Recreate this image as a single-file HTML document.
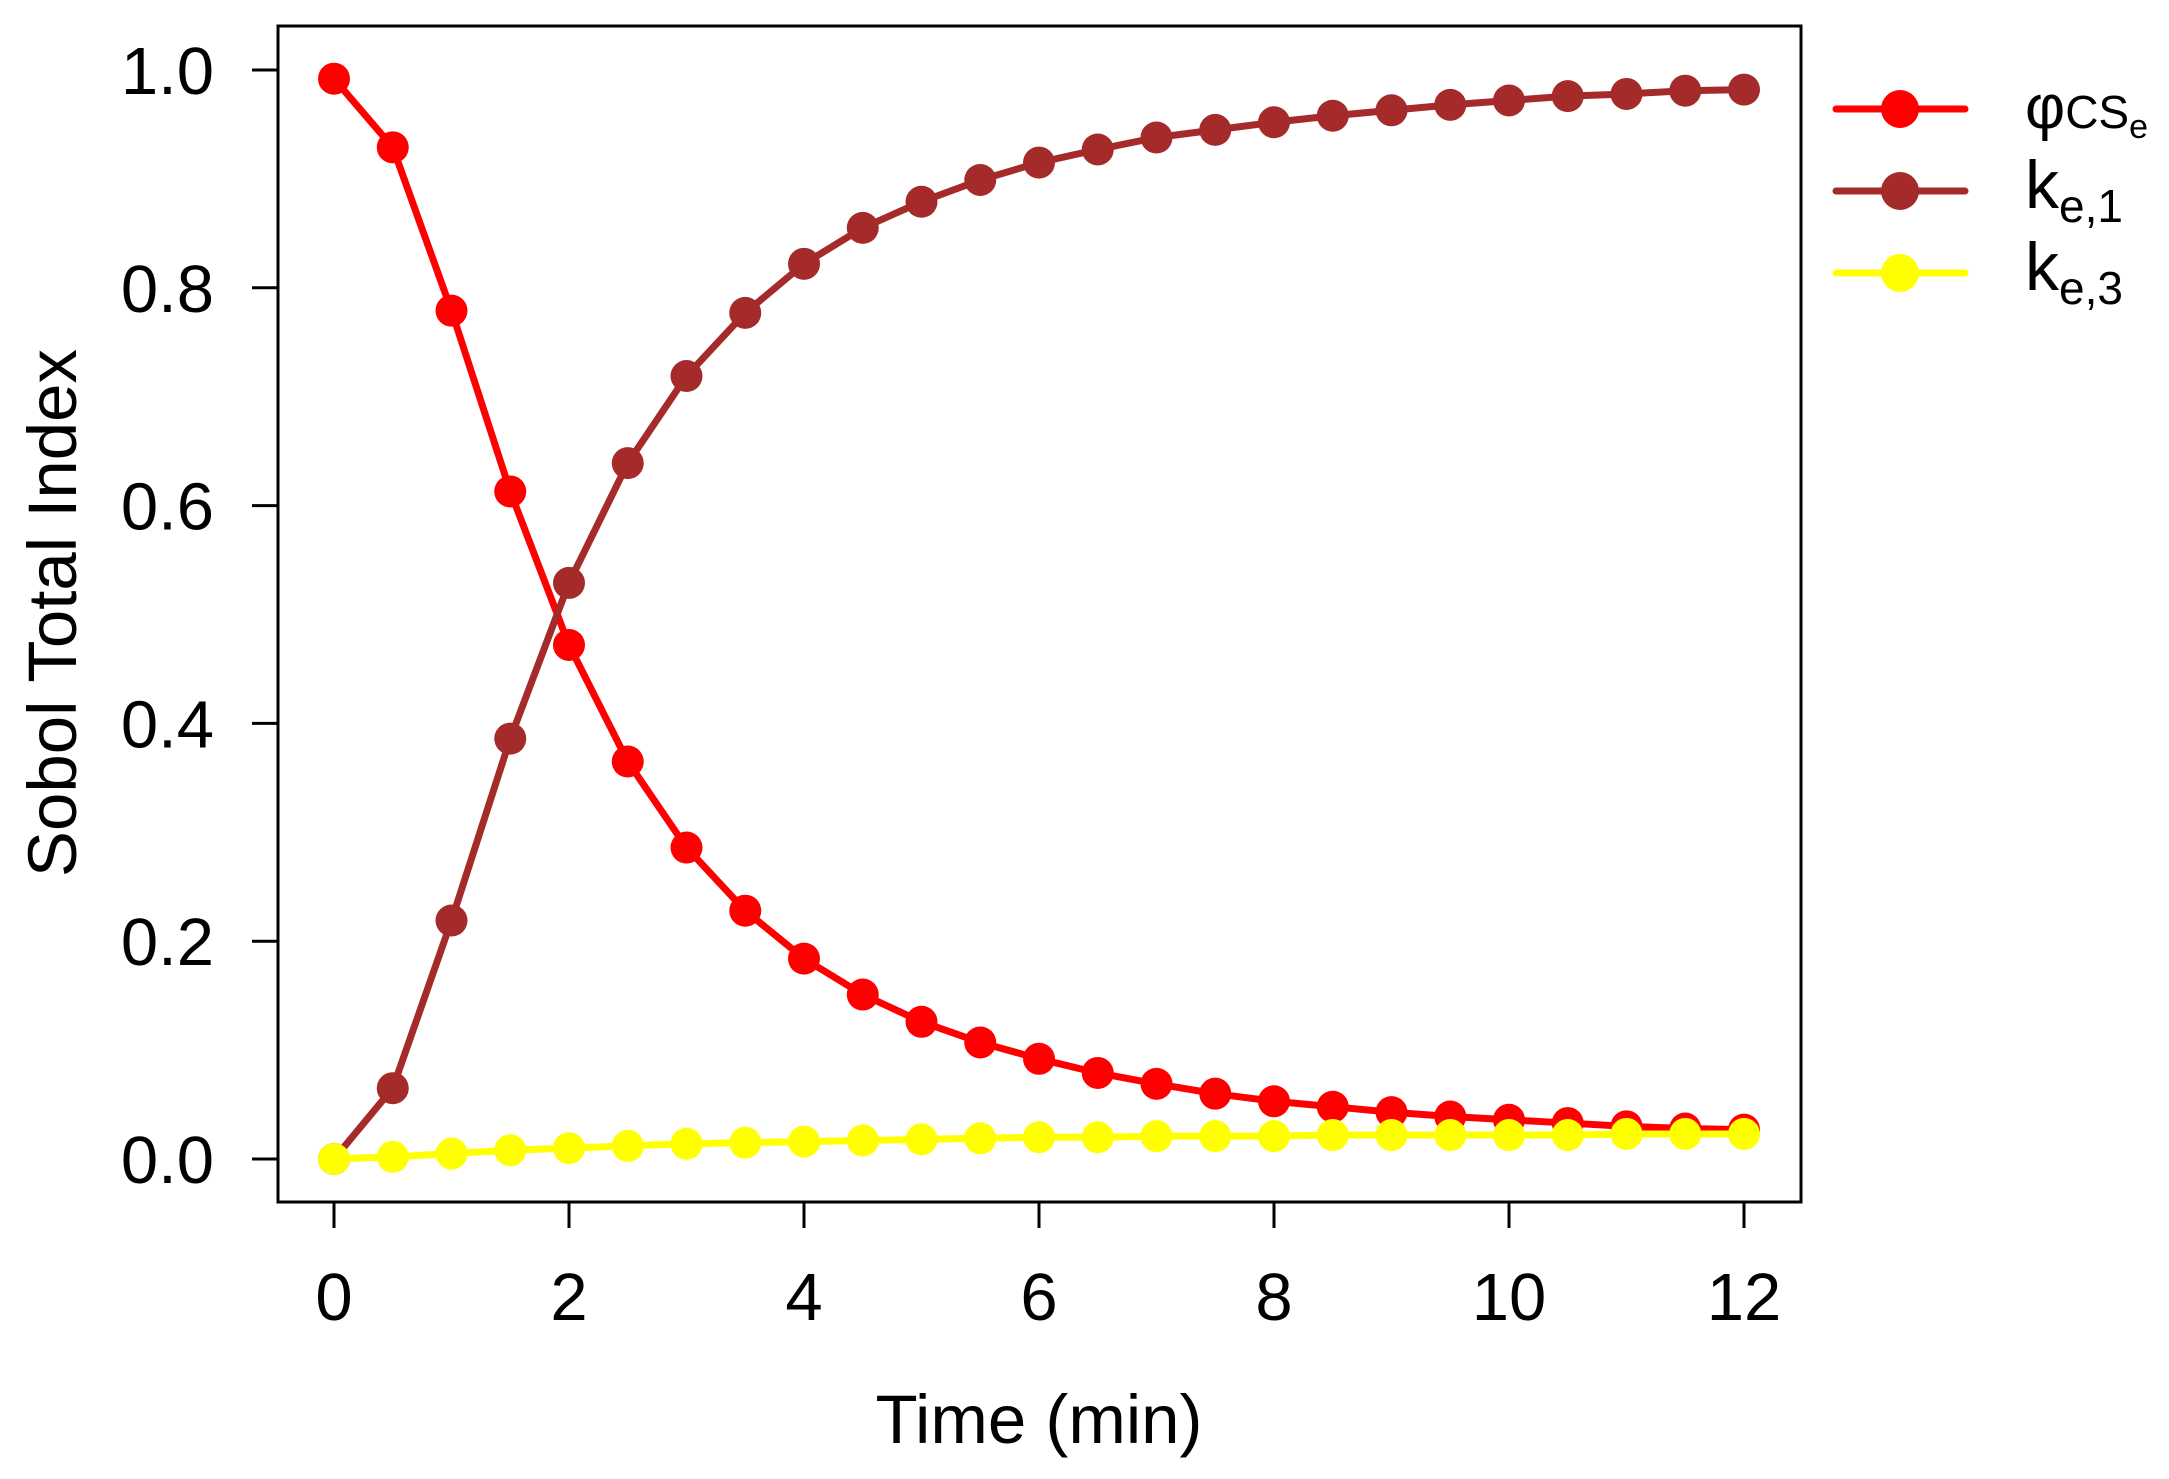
<!DOCTYPE html>
<html><head><meta charset="utf-8"><style>
html,body{margin:0;padding:0;background:#fff;}
svg{display:block;font-family:"Liberation Sans",Arial,sans-serif;}
</style></head><body>
<svg id="chart" width="2169" height="1479" viewBox="0 0 2169 1479" xmlns="http://www.w3.org/2000/svg">
<rect width="2169" height="1479" fill="#fff"/>
<g id="plot"></g>
<rect x="278" y="26" width="1523" height="1176" fill="none" stroke="#000" stroke-width="3"/>
<text x="1039" y="1443" font-size="69" text-anchor="middle">Time (min)</text>
<text transform="translate(76,613) rotate(-90)" font-size="69" text-anchor="middle">Sobol Total Index</text>
<g>
 <g>
  <line x1="1836" y1="109" x2="1965" y2="109" stroke="#ff0000" stroke-width="7" stroke-linecap="round"/>
  <circle cx="1900" cy="109" r="19" fill="#ff0000"/>
  <text x="2025" y="128" font-size="62">φ<tspan font-size="46">CS</tspan><tspan font-size="34" dy="10">e</tspan></text>
 </g>
 <g>
  <line x1="1836" y1="191" x2="1965" y2="191" stroke="#a52a2a" stroke-width="7" stroke-linecap="round"/>
  <circle cx="1900" cy="191" r="19" fill="#a52a2a"/>
  <text x="2025" y="208" font-size="68">k<tspan font-size="46" dy="14">e,1</tspan></text>
 </g>
 <g>
  <line x1="1836" y1="273" x2="1965" y2="273" stroke="#ffff00" stroke-width="7" stroke-linecap="round"/>
  <circle cx="1900" cy="273" r="19" fill="#ffff00"/>
  <text x="2025" y="290" font-size="68">k<tspan font-size="46" dy="14">e,3</tspan></text>
 </g>
</g>
</svg>
<script>
const times=[0,0.5,1,1.5,2,2.5,3,3.5,4,4.5,5,5.5,6,6.5,7,7.5,8,8.5,9,9.5,10,10.5,11,11.5,12];
const phiValues=[0.992,0.929,0.779,0.613,0.472,0.365,0.286,0.228,0.184,0.151,0.126,0.107,0.092,0.079,0.069,0.060,0.053,0.048,0.043,0.039,0.036,0.033,0.030,0.028,0.027];
const ke1Values=[0.0,0.065,0.219,0.386,0.529,0.639,0.719,0.777,0.822,0.855,0.879,0.899,0.915,0.927,0.938,0.945,0.952,0.958,0.963,0.968,0.972,0.976,0.978,0.981,0.982];
const ke3Values=[0.0,0.002,0.005,0.008,0.010,0.012,0.014,0.015,0.016,0.017,0.018,0.019,0.020,0.020,0.021,0.021,0.021,0.022,0.022,0.022,0.022,0.022,0.023,0.023,0.023];
const xTicks=[0,2,4,6,8,10,12];
const xTickLabels=["0","2","4","6","8","10","12"];
const yTicks=[0,0.2,0.4,0.6,0.8,1.0];
const yTickLabels=["0.0","0.2","0.4","0.6","0.8","1.0"];

const NS="http://www.w3.org/2000/svg";
const X=t=>334+(t-0)/12*(1744-334);
const Y=v=>1159-v*(1159-70);
const g=document.getElementById('plot');
function mk(tag,attrs){const e=document.createElementNS(NS,tag);for(const k in attrs)e.setAttribute(k,attrs[k]);return e;}

xTicks.forEach((t,i)=>{
 const l=mk('line',{x1:X(t),x2:X(t),y1:1202,y2:1228,stroke:'#000','stroke-width':3});
 
 
 g.appendChild(l);
 const tx=mk('text',{x:X(t),y:1320,'font-size':67,'text-anchor':'middle'});
 
 
 tx.textContent=xTickLabels[i];g.appendChild(tx);
});
yTicks.forEach((v,i)=>{
 const l=mk('line',{x1:252,x2:278,y1:Y(v),y2:Y(v),stroke:'#000','stroke-width':3});
 
 
 g.appendChild(l);
 const tx=mk('text',{x:214,y:Y(v)+24,'font-size':67,'text-anchor':'end'});
 
 
 tx.textContent=yTickLabels[i];g.appendChild(tx);
});
function series(vals,color,name){
 const pts=times.map((t,i)=>X(t)+','+Y(vals[i])).join(' ');
 const pl=mk('polyline',{points:pts,fill:'none',stroke:color,'stroke-width':7,'stroke-linejoin':'round'});
 
 
 g.appendChild(pl);
 times.forEach((t,i)=>{
  const c=mk('circle',{cx:X(t),cy:Y(vals[i]),r:16,fill:color});
  
  
  g.appendChild(c);
 });
}
series(phiValues,'#ff0000','phi-cse');
series(ke1Values,'#a52a2a','ke1');
series(ke3Values,'#ffff00','ke3');
</script>
</body></html>
